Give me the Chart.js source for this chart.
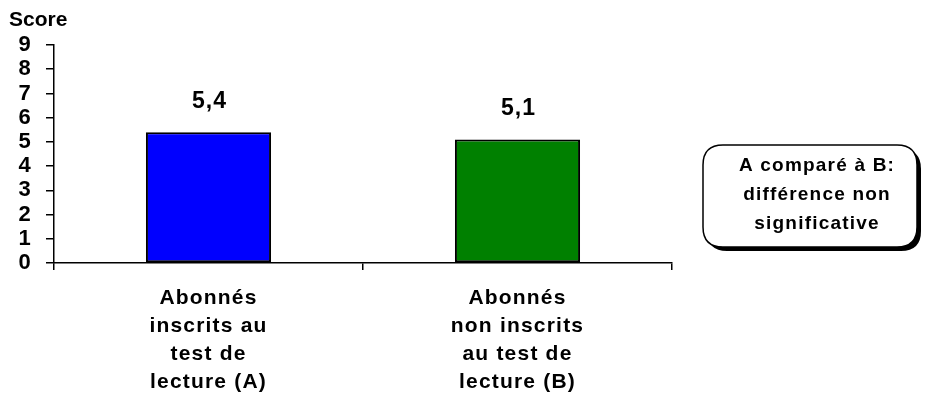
<!DOCTYPE html>
<html>
<head>
<meta charset="utf-8">
<script src="https://cdn.jsdelivr.net/npm/chart.js@4/dist/chart.umd.min.js"></script>
<style>
  html, body { margin: 0; padding: 0; background: #fff; }
  #wrap { width: 929px; height: 398px; position: relative; }
</style>
</head>
<body>
<div id="wrap"><canvas id="c"></canvas></div>
<script>
// Categories (multi-line labels) and scores
const categories = [
  ["Abonnés", "inscrits au", "test de", "lecture (A)"],
  ["Abonnés", "non inscrits", "au test de", "lecture (B)"]
];
const scores = [5.4, 5.1];
const barColors = ["#0000FF", "#008000"];
const yTicks = [0, 1, 2, 3, 4, 5, 6, 7, 8, 9];
const axisTitle = "Score";
const noteLines = ["A comparé à B:", "différence non", "significative"];

const FONT = "'Liberation Sans', Arial, sans-serif";
const SPACING = "1.2px";

// Slightly widened letter spacing for the axis labels
const spacing = {
  id: 'spacing',
  beforeDraw(chart) { chart.ctx.letterSpacing = SPACING; }
};

// Value labels above bars, with a decimal comma
const valueLabels = {
  id: 'valueLabels',
  afterDatasetsDraw(chart) {
    const ctx = chart.ctx;
    const meta = chart.getDatasetMeta(0);
    ctx.save();
    ctx.letterSpacing = "1px";
    ctx.font = "bold 23px " + FONT;
    ctx.fillStyle = "#000";
    ctx.textAlign = "center";
    ctx.textBaseline = "middle";
    meta.data.forEach((bar, i) => {
      const txt = scores[i].toFixed(1).replace('.', ',');
      ctx.fillText(txt, bar.x + 1, bar.y - 31);
    });
    ctx.restore();
  }
};

// Axis title at the top-left and the comment box on the right
const extras = {
  id: 'extras',
  afterDraw(chart) {
    const ctx = chart.ctx;
    ctx.save();
    ctx.letterSpacing = "0px";
    ctx.font = "bold 21px " + FONT;
    ctx.fillStyle = "#000";
    ctx.textAlign = "left";
    ctx.textBaseline = "middle";
    ctx.fillText(axisTitle, 9, 20);

    // rounded box with a drop shadow
    const x = 703, y = 145, w = 214, h = 102, r = 20;
    const rr = (ox, oy) => {
      ctx.beginPath();
      ctx.moveTo(ox + r, oy);
      ctx.lineTo(ox + w - r, oy);
      ctx.quadraticCurveTo(ox + w, oy, ox + w, oy + r);
      ctx.lineTo(ox + w, oy + h - r);
      ctx.quadraticCurveTo(ox + w, oy + h, ox + w - r, oy + h);
      ctx.lineTo(ox + r, oy + h);
      ctx.quadraticCurveTo(ox, oy + h, ox, oy + h - r);
      ctx.lineTo(ox, oy + r);
      ctx.quadraticCurveTo(ox, oy, ox + r, oy);
      ctx.closePath();
    };
    rr(x + 4, y + 4);
    ctx.fillStyle = "#000";
    ctx.fill();
    rr(x, y);
    ctx.fillStyle = "#fff";
    ctx.fill();
    ctx.lineWidth = 1.5;
    ctx.strokeStyle = "#000";
    ctx.stroke();

    ctx.letterSpacing = "1.2px";
    ctx.font = "bold 19px " + FONT;
    ctx.fillStyle = "#000";
    ctx.textAlign = "center";
    noteLines.forEach((t, i) => ctx.fillText(t, x + w / 2 + 7, y + 21 + i * 29));
    ctx.restore();
  }
};

new Chart(document.getElementById('c'), {
  type: 'bar',
  data: {
    labels: categories,
    datasets: [{
      data: scores,
      backgroundColor: barColors,
      borderColor: "#000",
      borderWidth: 2,
      borderSkipped: false,
      barPercentage: 0.405,
      categoryPercentage: 1.0
    }]
  },
  options: {
    responsive: true,
    maintainAspectRatio: false,
    animation: false,
    devicePixelRatio: 1,
    layout: { padding: { left: 0, top: 45, right: 257, bottom: 0 } },
    plugins: { legend: { display: false }, tooltip: { enabled: false } },
    scales: {
      x: {
        afterFit(scale) { scale.height = 135; },
        grid: {
          offset: true,
          drawOnChartArea: false,
          drawTicks: true,
          tickLength: 7,
          color: "#000",
          lineWidth: 1.5
        },
        border: { display: true, color: "#000", width: 1.5 },
        ticks: {
          color: "#000",
          padding: 14,
          maxRotation: 0,
          autoSkip: false,
          font: { family: FONT, size: 21, weight: 'bold', lineHeight: 1.34 }
        }
      },
      y: {
        min: 0,
        max: 9,
        afterFit(scale) { scale.width = 54; },
        afterBuildTicks(scale) { scale.ticks = yTicks.map(v => ({ value: v })); },
        grid: {
          drawOnChartArea: false,
          drawTicks: true,
          tickLength: 8,
          color: "#000",
          lineWidth: 1.5
        },
        border: { display: true, color: "#000", width: 1.5 },
        ticks: {
          color: "#000",
          padding: 14,
          autoSkip: false,
          font: { family: FONT, size: 22, weight: 'bold', lineHeight: 1 }
        }
      }
    }
  },
  plugins: [spacing, valueLabels, extras]
});
</script>
</body>
</html>
